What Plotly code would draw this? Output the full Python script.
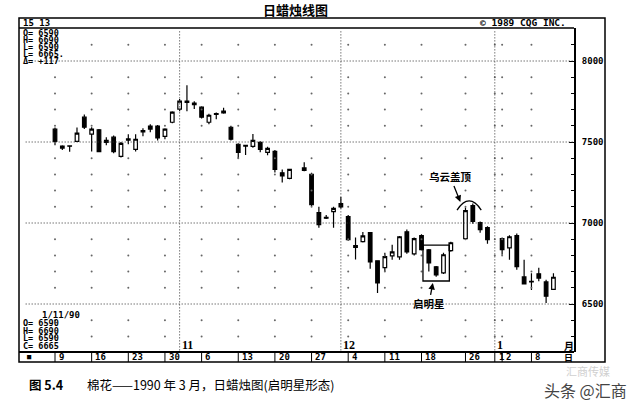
import numpy as np
import pandas as pd
import plotly.graph_objects as go

# ---------------- data ----------------
first_day = "1989-10-09"
last_day = "1990-01-11"
holidays = ["1989-11-23", "1989-12-25", "1990-01-01"]

open_ = [7579, 7462, 7476, 7504, 7653, 7548, 7575, 7510, 7530, 7411,
         7512, 7455, 7562, 7598, 7598, 7535, 7622, 7703, 7745, 7740,
         7715, 7622, 7670, 7690, 7591, 7486, 7475, 7473, 7498, 7436,
         7442, 7310, 7275, 7340, 7300, 7064, 7035, 7070, 7120, 7040,
         6860, 6885, 6940, 6767, 6724, 6797, 6791, 6946, 6810, 6922,
         6835, 6730, 6692, 6830, 6903, 7107, 7002, 6971, 6903, 6847,
         6922, 6667, 6640, 6686, 6636, 6590]
high = [7590, 7480, 7480, 7590, 7670, 7591, 7580, 7530, 7540, 7500,
        7548, 7548, 7585, 7610, 7605, 7585, 7690, 7765, 7850, 7752,
        7720, 7675, 7682, 7712, 7600, 7492, 7482, 7550, 7505, 7470,
        7450, 7331, 7335, 7375, 7310, 7100, 7050, 7100, 7160, 7050,
        6910, 6945, 6945, 6770, 6816, 6865, 6920, 6960, 6910, 6930,
        6840, 6735, 6816, 6885, 7095, 7120, 7010, 6980, 6910, 6925,
        6935, 6773, 6690, 6723, 6650, 6690]
low = [7480, 7450, 7440, 7500, 7580, 7442, 7436, 7480, 7430, 7405,
       7486, 7442, 7535, 7560, 7510, 7517, 7615, 7690, 7690, 7703,
       7645, 7610, 7640, 7675, 7510, 7400, 7420, 7465, 7436, 7418,
       7312, 7250, 7270, 7320, 7105, 6970, 7025, 6970, 7090, 6890,
       6775, 6880, 6717, 6568, 6700, 6773, 6773, 6810, 6800, 6830,
       6700, 6668, 6685, 6822, 6895, 6995, 6940, 6872, 6804, 6773,
       6711, 6620, 6587, 6640, 6506, 6590]
close = [7504, 7475, 7474, 7555, 7591, 7579, 7440, 7498, 7440, 7492,
         7520, 7517, 7570, 7580, 7525, 7579, 7684, 7752, 7752, 7730,
         7653, 7665, 7676, 7680, 7517, 7436, 7480, 7510, 7455, 7461,
         7331, 7290, 7331, 7325, 7114, 6990, 7030, 7090, 7100, 6897,
         6850, 6920, 6760, 6630, 6792, 6822, 6915, 6822, 6903, 6835,
         6754, 6680, 6804, 6878, 7076, 7010, 6959, 6897, 6835, 6915,
         6730, 6624, 6636, 6660, 6548, 6665]

week_tick_dates = ["1989-10-09", "1989-10-16", "1989-10-23", "1989-10-30",
                   "1989-11-06", "1989-11-13", "1989-11-20", "1989-11-27",
                   "1989-12-04", "1989-12-11", "1989-12-18", "1989-12-26",
                   "1990-01-01", "1990-01-02", "1990-01-08"]
week_tick_labels = ["9", "16", "23", "30", "6", "13", "20", "27", "4", "11",
                    "18", "26", "1", "2", "8"]
month_dates = ["1989-11-01", "1989-12-01", "1990-01-01"]
month_labels = ["11", "12", "1"]
y_major = [6500, 7000, 7500, 8000]
morning_star_dates = ["1989-12-19", "1989-12-20", "1989-12-21"]
dark_cloud_dates = ["1989-12-26", "1989-12-27"]

# ---------------- derived positions (trading-day slots) ----------------
days = [d for d in pd.bdate_range(first_day, last_day)
        if d.strftime("%Y-%m-%d") not in holidays]


def slot(d):
    return int(np.busday_count(first_day, pd.Timestamp(d).strftime("%Y-%m-%d")))


x = [slot(d) for d in days]

# plot-area pixel geometry
W, H = 640, 409
PL, PR, PT, PB = 19, 574, 28, 352


def px(v):
    return (v - PL) / (PR - PL)


def py(v):
    return (PB - v) / (PB - PT)


MONO = "DejaVu Sans Mono"
CJK = "Noto Sans CJK SC"

fig = go.Figure()

# dot grid
gx, gy = [], []
for wd in week_tick_dates:
    for v in range(6300, 8200, 100):
        if v % 500 != 0:
            gx.append(slot(wd))
            gy.append(v)
fig.add_trace(go.Scatter(x=gx, y=gy, mode="markers",
                         marker=dict(size=2, color="#666"),
                         hoverinfo="skip", showlegend=False))

fig.add_trace(go.Candlestick(
    x=x, open=open_, high=high, low=low, close=close,
    increasing=dict(line=dict(color="black", width=1.2), fillcolor="white"),
    decreasing=dict(line=dict(color="black", width=1.2), fillcolor="black"),
    whiskerwidth=0, showlegend=False))

shapes = []
# outer frame
shapes.append(dict(type="rect", xref="paper", yref="paper",
                   x0=px(19), x1=px(605), y0=py(18), y1=py(362),
                   line=dict(color="black", width=1.5)))
# header line and date row line
shapes.append(dict(type="line", xref="paper", yref="paper",
                   x0=px(19), x1=px(574), y0=1, y1=1,
                   line=dict(color="black", width=1.5)))
shapes.append(dict(type="line", xref="paper", yref="paper",
                   x0=px(19), x1=px(574), y0=0, y1=0,
                   line=dict(color="black", width=2)))
# date row separators
for wd in week_tick_dates:
    shapes.append(dict(type="line", xref="x", yref="paper",
                       x0=slot(wd), x1=slot(wd), y0=py(362), y1=0,
                       line=dict(color="black", width=1)))
# dotted major grid
for v in y_major:
    shapes.append(dict(type="line", xref="paper", yref="y",
                       x0=0.012, x1=1, y0=v, y1=v,
                       line=dict(color="#333", width=1, dash="1px,2px")))
for md in month_dates:
    shapes.append(dict(type="line", xref="x", yref="paper",
                       x0=slot(md), x1=slot(md), y0=0.005, y1=0.99,
                       line=dict(color="#333", width=1, dash="1px,2px")))

# morning star box
ms = [slot(d) for d in morning_star_dates]
ms_i = [x.index(s) for s in ms]
ms_top = max(high[i] for i in ms_i) + 24
ms_bot = min(low[i] for i in ms_i) - 26
shapes.append(dict(type="rect", xref="x", yref="y",
                   x0=ms[0] - 0.8, x1=ms[-1] + 0.8, y0=ms_bot, y1=ms_top,
                   line=dict(color="black", width=1.3)))
# dark cloud arc
dc = [slot(d) for d in dark_cloud_dates]
dc_i = [x.index(s) for s in dc]
dc_mid = (dc[0] + dc[1]) / 2
dc_hi = max(high[i] for i in dc_i)
end_v = dc_hi - 40
ctrl_v = 2 * (dc_hi + 16) - end_v
shapes.append(dict(type="path", xref="x", yref="y",
                   path=f"M {dc_mid - 1.65},{end_v} Q {dc_mid},{ctrl_v} {dc_mid + 1.65},{end_v}",
                   line=dict(color="black", width=1.3)))

ann = []


def txt(xp, yp, text, size=9, family=MONO, anchor="left", color="black", bold=True):
    ann.append(dict(x=px(xp), y=py(yp), xref="paper", yref="paper",
                    text=(f"<b>{text}</b>" if bold else text), showarrow=False,
                    xanchor=anchor, yanchor="middle",
                    font=dict(size=size, family=family, color=color)))


txt(295, 10, "日蜡烛线图", size=13, family=CJK, anchor="center")
txt(21, 23, "15 13", size=9)
txt(478, 23, "© 1989 CQG INC.", size=9.5)

top_block = [f"O= {open_[-1]}", f"H= {high[-1]}", f"L= {low[-1]}",
             f"L= {close[-1]}.", f"Δ= +{close[-1] - close[-2]}"]
for k, t in enumerate(top_block):
    txt(21, 33 + 7 * k, t, size=8.5)

txt(40, 315, "1/11/90", size=9)
bottom_block = [f"O= {open_[-1]}", f"H= {high[-1]}", f"L= {low[-1]}", f"C= {close[-1]}"]
for k, t in enumerate(bottom_block):
    txt(21, 323 + 7.5 * k, t, size=8.5)

txt(25, 357, "■", size=7, family=MONO)

# date labels (data-positioned)
for wd, lab in zip(week_tick_dates, week_tick_labels):
    ann.append(dict(x=slot(wd) + 0.25, y=py(357), xref="x", yref="paper",
                    text=f"<b>{lab}</b>", showarrow=False, xanchor="left",
                    yanchor="middle", font=dict(size=9, family=MONO, color="black")))
for md, lab in zip(month_dates, month_labels):
    ann.append(dict(x=slot(md), y=py(345), xref="x", yref="paper",
                    text=f"<b>{lab}</b>", showarrow=False, xanchor="left",
                    yanchor="middle",
                    font=dict(size=12, family="Liberation Serif", color="black")))
txt(562, 345, "月", size=10, family=CJK)
txt(562, 357, "日", size=9, family=CJK)

# pattern labels with arrows
ann.append(dict(x=dc_mid - 1.2, y=dc_hi + 10, xref="x", yref="y",
                text="<b>乌云盖顶</b>", showarrow=True, arrowhead=2,
                arrowsize=1, arrowwidth=1.3, arrowcolor="black",
                ax=-10, ay=-25, standoff=0,
                font=dict(size=10.5, family=CJK, color="black")))
ann.append(dict(x=ms[1] - 0.45, y=ms_bot - 12, xref="x", yref="y",
                text="<b>启明星</b>", showarrow=True, arrowhead=2,
                arrowsize=1, arrowwidth=1.3, arrowcolor="black",
                ax=-4, ay=21, standoff=0,
                font=dict(size=10.5, family=CJK, color="black")))

# caption and watermark
txt(27, 384, "图 5.4", size=12.5, family=CJK)
txt(85, 384, "棉花——1990 年 3 月，日蜡烛图(启明星形态)", size=12.5, family=CJK, bold=False)
txt(588, 371, "汇商传媒", size=11, family=CJK, anchor="center", color="#d0d0d0", bold=False)
txt(585, 390, "头条 @汇商", size=16, family=CJK, anchor="center", color="#444", bold=False)

fig.update_layout(
    width=W, height=H, autosize=False,
    margin=dict(l=PL, r=W - PR, t=PT, b=H - PB, pad=0, autoexpand=False),
    paper_bgcolor="white", plot_bgcolor="white",
    showlegend=False, shapes=shapes, annotations=ann,
    xaxis=dict(range=[(PL - 55) / 7.33, (PR - 55) / 7.33], showgrid=False,
               zeroline=False, showticklabels=False, ticks="", automargin=False,
               showline=False, rangeslider=dict(visible=False), fixedrange=True),
    yaxis=dict(side="right", range=[6203.7, 8203.7], tick0=0, dtick=500,
               automargin=False,
               showgrid=False, zeroline=False, showline=True, linecolor="black",
               linewidth=2, ticks="inside", ticklen=5, tickwidth=1.2,
               tickcolor="black",
               minor=dict(dtick=100, ticks="inside", ticklen=3, tickwidth=1,
                          tickcolor="black", showgrid=False),
               tickfont=dict(size=9, family=MONO, color="black", weight="bold"),
               ticklabelstandoff=4),
)

fig.write_html("out.html", config={"displayModeBar": False},
               post_script="document.body.style.margin='0';document.body.style.padding='0';")
